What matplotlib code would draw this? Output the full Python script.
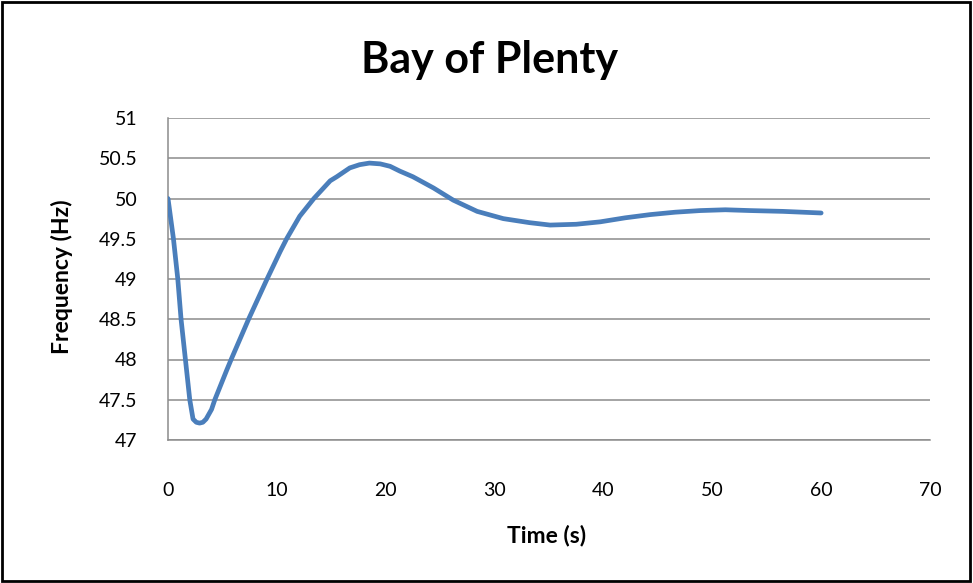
import numpy as np
import matplotlib
matplotlib.use("Agg")
import matplotlib.pyplot as plt
from matplotlib.patches import Rectangle

plt.rcParams['font.family'] = ['Lato', 'DejaVu Sans']

# values
time_s = [0, 0.5, 0.9, 1.2, 1.6, 2.0, 2.3, 2.6, 2.9, 3.2, 3.5, 4.0, 4.3, 5.4, 5.8,
          7.4, 9.1, 10.3, 10.9, 12.1, 13.4, 14.9, 15.5, 16.7, 17.6, 18.5,
          19.5, 20.4, 21.3, 22.5, 24.4, 26.2, 28.4, 30.8, 33.2, 35.1, 37.5, 39.7,
          42.0, 44.3, 46.6, 48.9, 51.2, 53.5, 56.5, 60]
freq_hz = [50.0, 49.5, 49.0, 48.5, 48.0, 47.5, 47.26, 47.22, 47.21, 47.22, 47.26,
           47.38, 47.5, 47.87, 48.0, 48.5, 49.0, 49.34, 49.5, 49.78,
           50.0, 50.22, 50.27, 50.38, 50.42, 50.44, 50.43, 50.40, 50.34, 50.27,
           50.13, 49.98, 49.84, 49.75, 49.70, 49.67, 49.68, 49.71, 49.76, 49.80,
           49.83, 49.85, 49.86, 49.85, 49.84, 49.82]
x_ticks = [0, 10, 20, 30, 40, 50, 60, 70]
y_ticks = [47, 47.5, 48, 48.5, 49, 49.5, 50, 50.5, 51]

fig = plt.figure(figsize=(9.73, 5.83), dpi=100)
ax = fig.add_axes([168/973, 1 - 440/583, (930 - 168)/973, (440 - 118)/583])

ax.plot(time_s, freq_hz, color='#4A7EBB', linewidth=3.4,
        solid_joinstyle='round', solid_capstyle='round', zorder=3)

ax.set_xlim(0, 70)
ax.set_ylim(47, 51)
ax.set_xticks(x_ticks)
ax.set_yticks(y_ticks)
ax.set_yticklabels(['47', '47.5', '48', '48.5', '49', '49.5', '50', '50.5', '51'])
ax.yaxis.grid(True, color='#8C8C8C', linewidth=1.1)
ax.set_axisbelow(True)
ax.tick_params(length=0, labelsize=14, colors='black')
ax.tick_params(axis='x', pad=30)
ax.tick_params(axis='y', pad=22)
for s in ['top', 'right']:
    ax.spines[s].set_visible(False)
for s in ['left', 'bottom']:
    ax.spines[s].set_color('#8C8C8C')
    ax.spines[s].set_linewidth(1.1)

fig.text(0.5 * (360 + 618) / 973, 1 - 60/583, 'Bay of Plenty', ha='center', va='center',
         fontsize=31, fontweight='bold')
fig.text(547/973, 1 - 535/583, 'Time (s)', ha='center', va='center',
         fontsize=16.5, fontweight='bold')
fig.text(62/973, 1 - 277/583, 'Frequency (Hz)', ha='center', va='center',
         rotation=90, fontsize=16.5, fontweight='bold')

# outer chart border
fig.patches.append(Rectangle((0.002, 0.003), 0.995, 0.993, transform=fig.transFigure,
                             fill=False, edgecolor='black', linewidth=2))

fig.savefig('out.png', dpi=100)
